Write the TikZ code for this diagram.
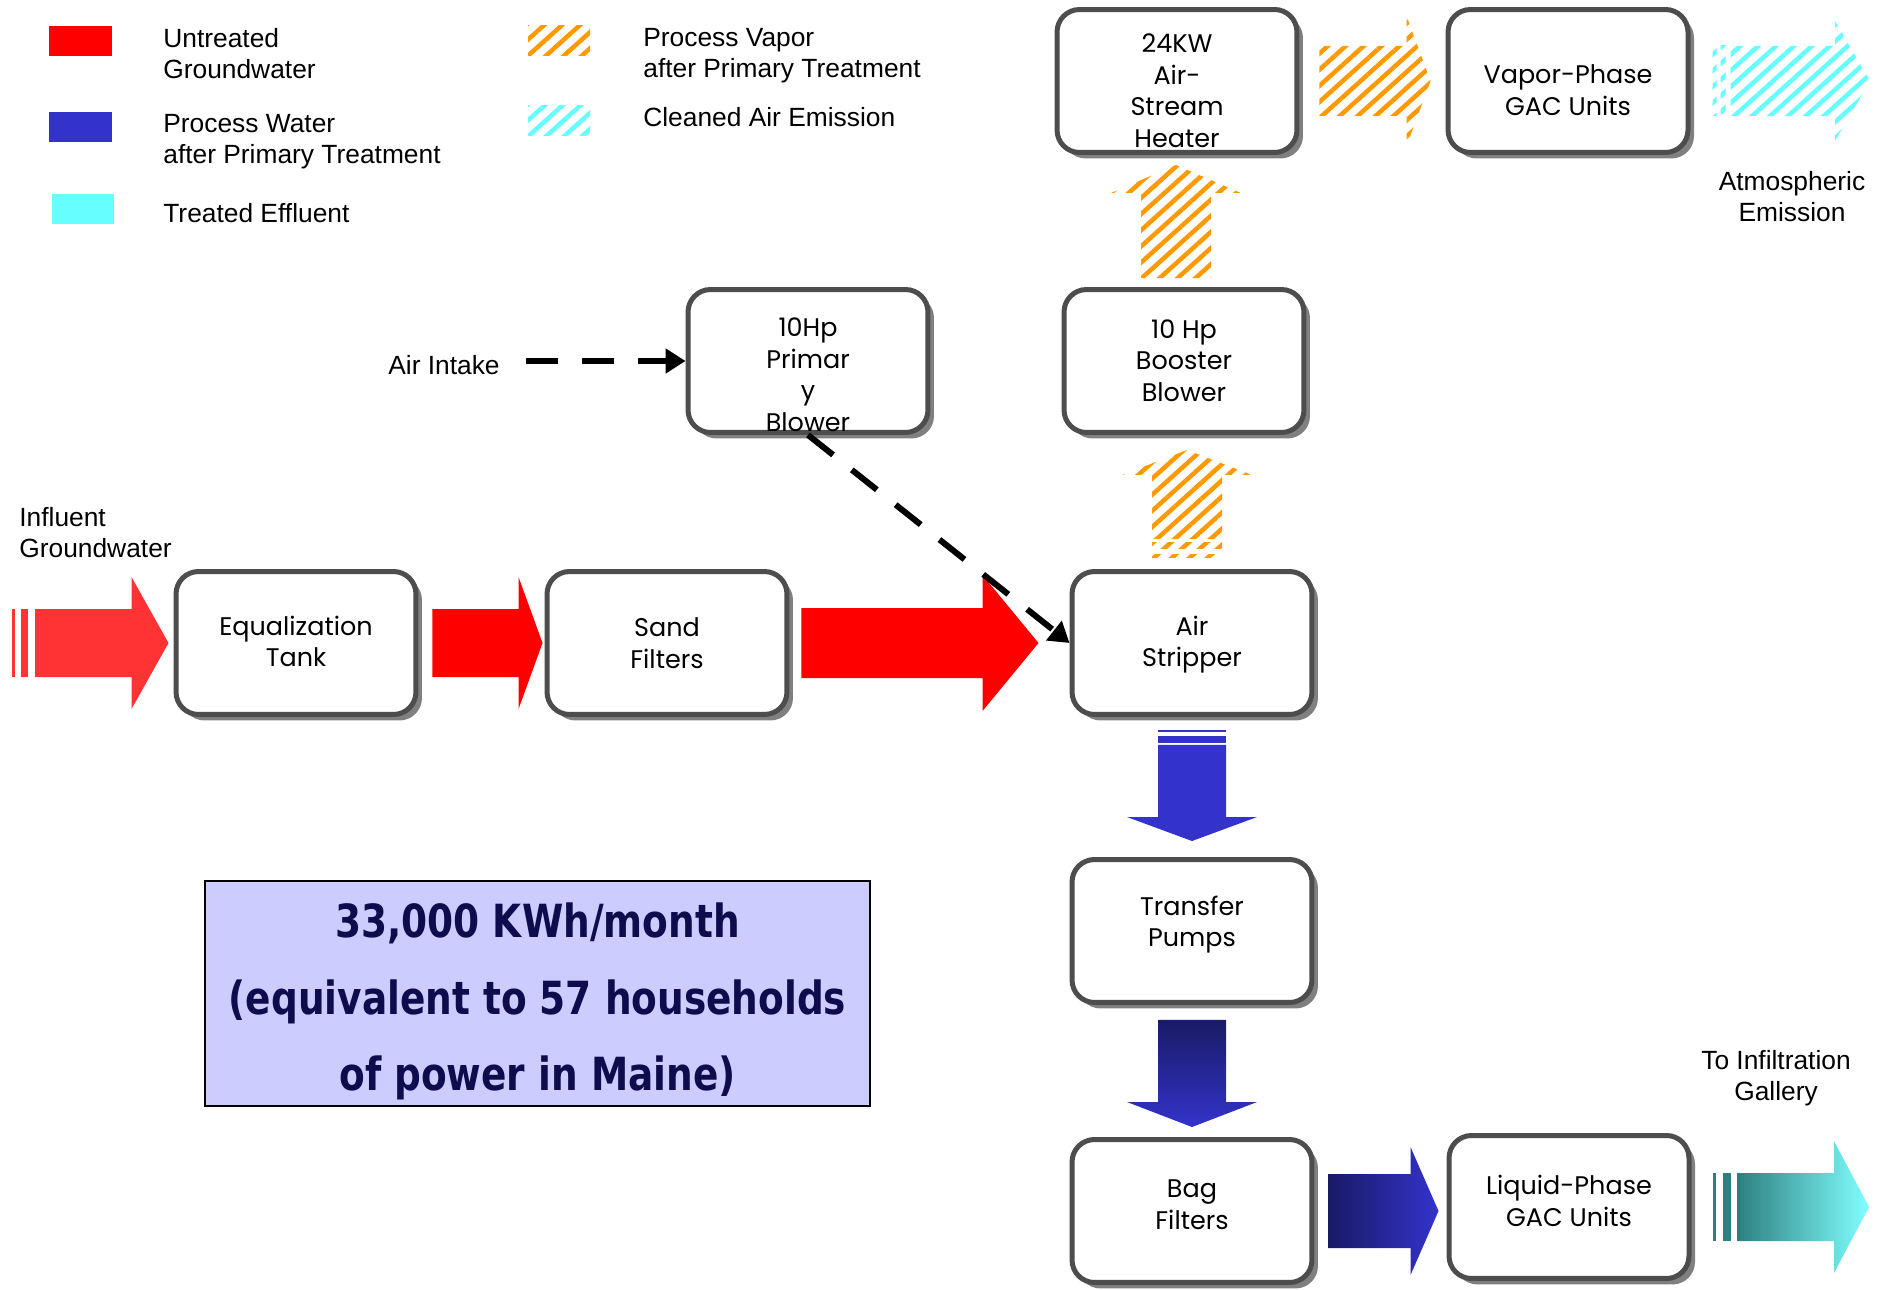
\documentclass[tikz,border=0pt]{standalone}
\usepackage{fontspec}
\setmainfont{Liberation Sans}
\newfontfamily\boxfont{Poppins}
\newfontfamily\powerfont{DejaVu Sans}[FakeStretch=0.82]
\usepackage{xcolor}
\usepackage{tikz}
\usetikzlibrary{arrows.meta,calc,shadows,patterns.meta,positioning}

\definecolor{rawred}{HTML}{FF0000}
\definecolor{inred}{HTML}{FF3333}
\definecolor{procblue}{HTML}{3333CC}
\definecolor{deepnavy}{HTML}{1A1A66}
\definecolor{effteal}{HTML}{2E8080}
\definecolor{effcyan}{HTML}{80FFFF}
\definecolor{legcyan}{HTML}{66FFFF}
\definecolor{vaporange}{HTML}{FF9900}
\definecolor{boxedge}{HTML}{4D4D4D}
\definecolor{boxshade}{HTML}{808080}
\definecolor{powerfill}{HTML}{CCCCFF}
\definecolor{powertext}{HTML}{0D0D4D}

% fat flow arrows: style, tail, tip, body half width, head half width, head length
\newcommand{\rflow}[6]{\path[#1] ($(#2)+(0,-#4)$) -- ($(#3)+(-#6,-#4)$) -- ($(#3)+(-#6,-#5)$) -- (#3) -- ($(#3)+(-#6,#5)$) -- ($(#3)+(-#6,#4)$) -- ($(#2)+(0,#4)$) -- cycle;}
\newcommand{\dflow}[6]{\path[#1] ($(#2)+(-#4,0)$) -- ($(#3)+(-#4,-#6)$) -- ($(#3)+(-#5,-#6)$) -- (#3) -- ($(#3)+(#5,-#6)$) -- ($(#3)+(#4,-#6)$) -- ($(#2)+(#4,0)$) -- cycle;}
\newcommand{\uflow}[6]{\path[#1] ($(#2)+(-#4,0)$) -- ($(#3)+(-#4,#6)$) -- ($(#3)+(-#5,#6)$) -- (#3) -- ($(#3)+(#5,#6)$) -- ($(#3)+(#4,#6)$) -- ($(#2)+(#4,0)$) -- cycle;}
% text lowered inside a box, box size unchanged
\newcommand{\drop}[2]{\raisebox{#1}[\height][\depth]{\begin{tabular}{@{}c@{}}#2\end{tabular}}}

\tikzset{
  unit/.style={draw=boxedge, line width=0.1cm, rounded corners=0.45cm, fill=white,
    minimum width=4.8cm, minimum height=2.86cm, align=center,
    font=\boxfont\fontsize{14.5}{18}\selectfont,
    drop shadow={shadow xshift=0.12cm, shadow yshift=-0.12cm, fill=boxshade, opacity=1}},
  lbl/.style={align=center, font=\fontsize{15}{17.6}\selectfont},
  legtext/.style={anchor=west, inner sep=0pt, align=left, font=\fontsize{15}{17.6}\selectfont},
  airflow/.style={line width=0.12cm, dash pattern=on 0.64cm off 0.48cm,
    -{Triangle[length=0.4cm,width=0.48cm]}},
  vapflow/.style={pattern={Lines[angle=42,distance=0.24cm,line width=0.09cm]}, pattern color=vaporange},
  airclean/.style={pattern={Lines[angle=42,distance=0.24cm,line width=0.09cm]}, pattern color=legcyan},
}

\begin{document}
\begin{tikzpicture}[x=0.02cm, y=-0.02cm]
    \useasboundingbox (0,0) rectangle (1882,1290);

    % Legend
    \fill[rawred] (49,26) rectangle (112,56);
    \fill[procblue] (49,112) rectangle (112,142);
    \fill[legcyan] (52,194) rectangle (114,224);
    \path[vapflow] (528,26) rectangle (590,56);
    \path[airclean] (528,106) rectangle (590,136);
    \node[legtext] (lgraw) at (163,54) {Untreated\\Groundwater};
    \node[legtext] (lgproc) at (163,142) {Process Water\\after Primary Treatment};
    \node[legtext] (lgeff) at (163,213) {Treated Effluent};
    \node[legtext] (lgvap) at (643,56) {Process Vapor\\after Primary Treatment};
    \node[legtext] (lgair) at (643,117) {Cleaned Air Emission};

    % Units
    \node[unit] (heater) at (1177,81) {\drop{-7.2pt}{24KW\\Air-\\Stream\\Heater}};
    \node[unit] (vgac) at (1568,81) {\drop{-6.8pt}{Vapor-Phase\\GAC Units}};
    \node[unit] (primary) at (808,361) {\drop{-9.5pt}{10Hp\\Primar\\y\\Blower}};
    \node[unit] (booster) at (1184,361) {\drop{-1.5pt}{10 Hp\\Booster\\Blower}};
    \node[unit] (eqtank) at (296,643) {\drop{-1pt}{Equalization\\Tank}};
    \node[unit] (sand) at (667,643) {Sand\\Filters};
    \node[unit] (stripper) at (1192,643) {\drop{-1pt}{Air\\Stripper}};
    \node[unit] (pumps) at (1192,931) {\drop{3.7pt}{Transfer\\Pumps}};
    \node[unit] (bag) at (1192,1211) {\drop{2.2pt}{Bag\\Filters}};
    \node[unit] (lgac) at (1569,1207) {\drop{1.6pt}{Liquid-Phase\\GAC Units}};

    % Flow ends
    \coordinate (f1a) at (35,643);
    \coordinate (f1b) at ($(eqtank.west)+(-5,0)$);
    \coordinate (f2a) at ($(eqtank.east)+(14,0)$);
    \coordinate (f2b) at ($(sand.west)+(-2,0)$);
    \coordinate (f3a) at ($(sand.east)+(12,0)$);
    \coordinate (f3b) at ($(stripper.west)+(-31,0)$);
    \coordinate (f4a) at ($(stripper.south)+(0,28)$);
    \coordinate (f4b) at ($(pumps.north)+(0,-16)$);
    \coordinate (f5a) at ($(pumps.south)+(0,15)$);
    \coordinate (f5b) at ($(bag.north)+(0,-10)$);
    \coordinate (f6a) at ($(bag.east)+(14,0)$);
    \coordinate (f6b) at ($(lgac.west |- bag.east)+(-8,0)$);
    \coordinate (f7a) at ($(lgac.east)+(46,0)$);
    \coordinate (f7b) at (1869,1207);
    \coordinate (f8a) at ($(stripper.north -| booster.south)+(3,-30)$);
    \coordinate (f8b) at ($(booster.south)+(3,15)$);
    \coordinate (f9a) at ($(booster.north)+(-8,-9)$);
    \coordinate (f9b) at ($(heater.south -| booster.north)+(-8,10)$);
    \coordinate (f10a) at ($(heater.east)+(20,0)$);
    \coordinate (f10b) at ($(vgac.west)+(-15,0)$);
    \coordinate (f11a) at ($(vgac.east)+(40,0)$);
    \coordinate (f11b) at (1870,81);

    % Water line
    \fill[inred] ($(f1a)+(-23,-34)$) rectangle ($(f1a)+(-20,34)$);
    \fill[inred] ($(f1a)+(-14,-34)$) rectangle ($(f1a)+(-7,34)$);
    \rflow{fill=inred}{f1a}{f1b}{34}{66}{37}
    \rflow{fill=rawred}{f2a}{f2b}{34}{66}{24}
    \rflow{fill=rawred}{f3a}{f3b}{35}{68}{56}
    \fill[procblue] ($(f4a)+(-34,-15)$) rectangle ($(f4a)+(34,-13)$);
    \fill[procblue] ($(f4a)+(-34,-9)$) rectangle ($(f4a)+(34,-2)$);
    \dflow{fill=procblue}{f4a}{f4b}{34}{65}{24}
    \dflow{top color=deepnavy, bottom color=procblue}{f5a}{f5b}{34}{65}{25}
    \rflow{left color=deepnavy, right color=procblue}{f6a}{f6b}{37}{64}{28}
    \fill[effteal] ($(f7a)+(-25,-34)$) rectangle ($(f7a)+(-22,34)$);
    \fill[effteal] ($(f7a)+(-15,-34)$) rectangle ($(f7a)+(-7,34)$);
    \rflow{left color=effteal, right color=effcyan}{f7a}{f7b}{34}{66}{35}

    % Vapor line
    \path[vapflow] ($(f8a)+(-35,3)$) rectangle ($(f8a)+(35,9)$);
    \path[vapflow] ($(f8a)+(-35,15)$) rectangle ($(f8a)+(35,18)$);
    \uflow{vapflow}{f8a}{f8b}{35}{65}{25}
    \uflow{vapflow}{f9a}{f9b}{35}{65}{28}
    \rflow{vapflow}{f10a}{f10b}{35}{65}{24}
    \path[airclean] ($(f11a)+(-18,-35)$) rectangle ($(f11a)+(-14,35)$);
    \path[airclean] ($(f11a)+(-10,-35)$) rectangle ($(f11a)+(-5,35)$);
    \rflow{airclean}{f11a}{f11b}{35}{60}{35}

    % Air
    \node[lbl] (intake) at (444,365) {Air Intake};
    \draw[airflow] ($(intake.east |- primary.west)+(20,0)$) -- (primary.west);
    \draw[airflow] (primary.south) -- (stripper.west);

    % Labels
    \node[legtext] (influent) at (19,533) {Influent\\Groundwater};
    \node[lbl] (atmos) at (1792,197) {Atmospheric\\Emission};
    \node[lbl] (gallery) at (1776,1078) {To Infiltration\\Gallery};

    % Energy
    \node[draw=black, line width=1pt, fill=powerfill, minimum width=13.3cm, minimum height=4.51cm,
      text=powertext, font=\powerfont\bfseries\fontsize{26}{43.6}\selectfont]
      (power) at (537.5,993.6) {\raisebox{-4.3pt}[0.8\height][0.8\depth]{\begin{tabular}{@{}c@{}}33,000 KWh/month\\(equivalent to 57 households\\of power in Maine)\end{tabular}}};
\end{tikzpicture}
\end{document}
